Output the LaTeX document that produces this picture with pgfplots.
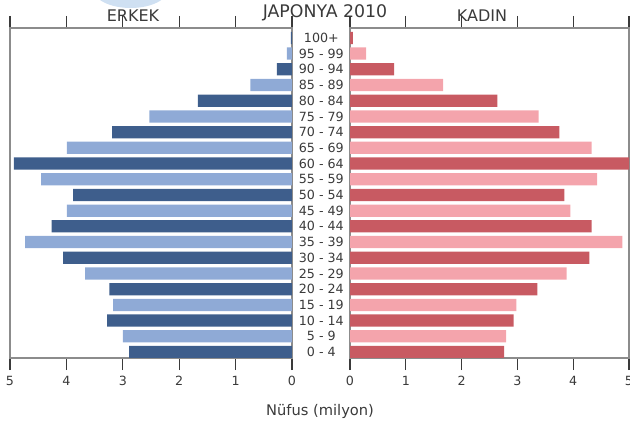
\documentclass[border=0pt]{standalone}
\usepackage{pgfplots}
\pgfplotsset{compat=1.18}
\usepackage{fontspec}
\setmainfont{DejaVu Sans}
\definecolor{mdark}{HTML}{3E5E8C}
\definecolor{mlight}{HTML}{8FAAD6}
\definecolor{fdark}{HTML}{C85A62}
\definecolor{flight}{HTML}{F4A4AC}
\definecolor{frame}{HTML}{8C8C8C}
\definecolor{txt}{HTML}{3A3A3A}
\definecolor{blob}{HTML}{CFE0F2}
\pgfplotsset{
  pyr/.style={
    scale only axis, width=211.5pt, height=247.5pt,
    xbar, bar width=0.78, bar shift=0pt,
    xmin=0, xmax=5, ymin=-0.38, ymax=20.63,
    xtick={0,1,2,3,4,5}, tick align=outside,
    x tick style={color=txt, line width=0.8pt},
    major tick length=9pt,
    y tick style={draw=none},
    axis line style={frame, line width=1pt},
    ticklabel style={font=\fontsize{9.5}{11}\selectfont, text=txt},
    xticklabel style={yshift=-1pt},
    /pgf/number format/assume math mode=true,
  }
}
\begin{document}
\begin{tikzpicture}
\useasboundingbox (0,0) rectangle (472.5pt,318pt);
\fill[color=blob] (98pt,326pt) ellipse (28pt and 14pt);
% men
\begin{axis}[pyr, at={(7.5pt,49.5pt)}, anchor=south west, x dir=reverse, ytick=\empty]
\addplot[fill=mdark, draw=none] coordinates {
  (2.89,0) (3.28,2) (3.24,4) (4.06,6) (4.26,8) (3.88,10)
  (4.93,12) (3.19,14) (1.67,16) (0.27,18) (0.02,20)};
\addplot[fill=mlight, draw=none] coordinates {
  (3.00,1) (3.17,3) (3.67,5) (4.73,7) (3.99,9) (4.45,11)
  (3.99,13) (2.53,15) (0.74,17) (0.09,19)};
\end{axis}
% women
\begin{axis}[pyr, at={(262.5pt,49.5pt)}, anchor=south west, width=209.25pt,
  ytick={0,...,20}, yticklabel pos=left,
  yticklabels={0 - 4,5 - 9,10 - 14,15 - 19,20 - 24,25 - 29,30 - 34,35 - 39,40 - 44,45 - 49,50 - 54,55 - 59,60 - 64,65 - 69,70 - 74,75 - 79,80 - 84,85 - 89,90 - 94,95 - 99,100+},
  yticklabel style={anchor=center, xshift=-12.5pt}]
\addplot[fill=fdark, draw=none] coordinates {
  (2.76,0) (2.93,2) (3.36,4) (4.29,6) (4.33,8) (3.84,10)
  (5.05,12) (3.75,14) (2.64,16) (0.79,18) (0.05,20)};
\addplot[fill=flight, draw=none] coordinates {
  (2.80,1) (2.98,3) (3.88,5) (4.88,7) (3.95,9) (4.43,11)
  (4.33,13) (3.38,15) (1.67,17) (0.29,19)};
\end{axis}
\node[text=txt, font=\fontsize{13}{15}\selectfont] at (243.75pt,308.5pt) {JAPONYA 2010};
\node[text=txt, font=\fontsize{12}{14}\selectfont] at (99.75pt,306pt) {ERKEK};
\node[text=txt, font=\fontsize{12}{14}\selectfont] at (361.5pt,306pt) {KADIN};
\node[text=txt, font=\fontsize{11}{13}\selectfont] at (240pt,9.75pt) {Nüfus (milyon)};
\end{tikzpicture}
\end{document}
